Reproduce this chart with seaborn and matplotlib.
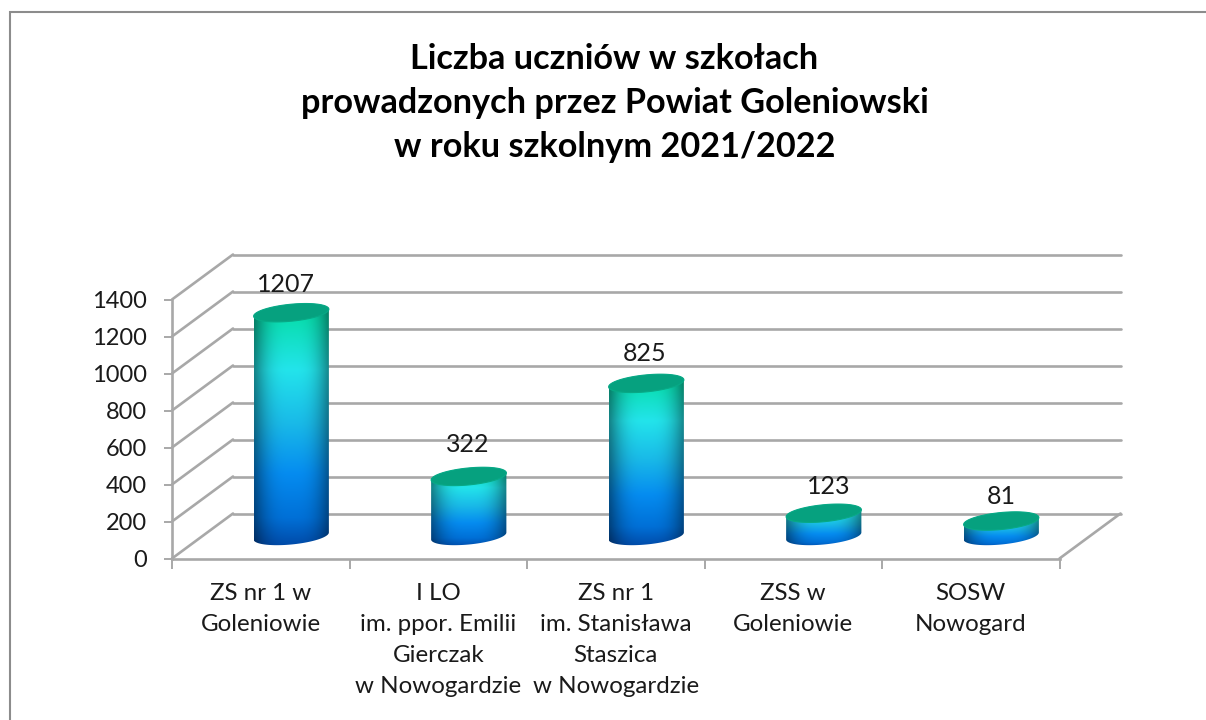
import matplotlib
matplotlib.use("Agg")
import matplotlib.pyplot as plt
import numpy as np
import seaborn as sns
from matplotlib.patches import Polygon, Rectangle
from matplotlib.path import Path
from matplotlib.transforms import IdentityTransform

title = "Liczba uczniów w szkołach\nprowadzonych przez Powiat Goleniowski\nw roku szkolnym 2021/2022"
schools = [
    "ZS nr 1 w\nGoleniowie",
    "I LO\nim. ppor. Emilii\nGierczak\nw Nowogardzie",
    "ZS nr 1\nim. Stanisława\nStaszica\nw Nowogardzie",
    "ZSS w\nGoleniowie",
    "SOSW\nNowogard",
]
students = [1207, 322, 825, 123, 81]
y_ticks = [0, 200, 400, 600, 800, 1000, 1200, 1400]

W, H = 1206, 720
DX, DY = 61, 45  # depth of the fake 3d box, in pixels
GREY = "#A8A8A8"
TEXT = "#1a1a1a"

sns.set_theme(style="white")
plt.rcParams["font.family"] = ["Lato", "DejaVu Sans"]

fig = plt.figure(figsize=(W / 100, H / 100), dpi=100)
fig.patch.set_facecolor("white")
ax = fig.add_axes([172 / W, 1 - 558.5 / H, (1059.5 - 172) / W, (558.5 - 299.5) / H])

sns.barplot(x=schools, y=students, width=0.424, color="#0088f0", saturation=1, ax=ax)

ax.set_autoscale_on(False)
ax.set_xlim(-0.5, 4.5)
ax.set_ylim(0, 1400)
ax.patch.set_alpha(0)
ax.set_yticks(y_ticks)
ax.tick_params(axis="y", left=True, length=6, width=1.4, color=GREY, labelsize=17, pad=12, labelcolor=TEXT)
ax.set_xticks(np.arange(-0.5, 5, 1), minor=True)
ax.tick_params(axis="x", which="minor", bottom=True, length=7, width=1.4, color=GREY)
ax.tick_params(axis="x", which="major", bottom=False, labelsize=17.4, pad=12, labelcolor=TEXT)
for lab in ax.get_xticklabels():
    lab.set_linespacing(1.58)
for side in ["top", "right"]:
    ax.spines[side].set_visible(False)
for side in ["left", "bottom"]:
    ax.spines[side].set_color(GREY)
    ax.spines[side].set_linewidth(1.9)

px = IdentityTransform()


def line(xs, ys):
    ax.plot(xs, ys, color=GREY, lw=1.9, transform=px, clip_on=False, zorder=0.5, solid_capstyle="round")


# back wall and left wall grid
for v in y_ticks:
    x0, y0 = ax.transData.transform((-0.5, v))
    x1, _ = ax.transData.transform((4.5, v))
    line([x0, x0 + DX], [y0, y0 + DY])
    line([x0 + DX, x1 + DX], [y0 + DY, y0 + DY])
# floor right edge
x1, y1 = ax.transData.transform((4.5, 0))
line([x1, x1 + DX], [y1, y1 + DY])

# colours of the cylinder from bottom to top
stops = np.array([0, 0.12, 0.3, 0.5, 0.72, 0.92, 1.0])
cols = np.array(
    [
        [0, 72, 165],
        [0, 112, 215],
        [5, 140, 240],
        [25, 185, 232],
        [35, 228, 235],
        [10, 222, 178],
        [8, 205, 160],
    ],
    dtype=float,
)
B, K = 8.5, 3.5

# label shift from the cylinder top, pixels
label_dx = [-5, -1, -2, 5, 0]
label_dy = [28, 32, 30, 27, 25]


def ellipse(cx, cy, a, t):
    return np.column_stack([cx + a * np.cos(t), cy + B * np.sin(t) + K * np.cos(t)])


for i, (bar, value) in enumerate(zip(ax.patches, students)):
    bar.set_visible(False)
    left, width = bar.get_x(), bar.get_width()
    xl, y_base = ax.transData.transform((left, 0))
    xr, y_top = ax.transData.transform((left + width, bar.get_height()))
    cx = (xl + xr) / 2 + DX / 2
    a = (xr - xl) / 2
    y_base += DY / 2
    y_top += DY / 2

    # body outline: lower half of base ellipse + upper half of top ellipse
    body = np.vstack(
        [
            ellipse(cx, y_base, a, np.linspace(np.pi, 2 * np.pi, 60)),
            ellipse(cx, y_top, a, np.linspace(0, np.pi, 60)),
        ]
    )
    ys = np.linspace(0, 1, 200)
    xs = np.linspace(-1, 1, 80)
    rgb = np.stack([np.interp(ys, stops, cols[:, c]) for c in range(3)], axis=1) / 255
    shade = 0.58 + 0.42 * np.clip(1 - np.abs(xs) ** 3, 0, 1) ** 1.2
    img = rgb[:, None, :] * shade[None, :, None]
    im = ax.imshow(
        img,
        origin="lower",
        aspect="auto",
        interpolation="bilinear",
        extent=(cx - a, cx + a, y_base - B - K, y_top + B + K),
        transform=px,
        zorder=2,
    )
    im.set_clip_box(fig.bbox)
    im.set_clip_path(Path(np.vstack([body, body[:1]]), closed=True), px)

    # top cap
    cap = Polygon(
        ellipse(cx, y_top, a, np.linspace(0, 2 * np.pi, 120)),
        closed=True,
        facecolor="#06A17F",
        edgecolor="#08A986",
        lw=0.8,
        transform=px,
        zorder=3,
        clip_on=False,
    )
    ax.add_patch(cap)

    ax.text(
        cx + label_dx[i],
        y_top + label_dy[i],
        str(value),
        ha="center",
        va="center",
        fontsize=18,
        color=TEXT,
        transform=px,
        zorder=4,
    )

ax.set_xlim(-0.5, 4.5)
ax.set_ylim(0, 1400)

fig.text(
    614.5 / W,
    1 - 103 / H,
    title,
    ha="center",
    va="center",
    fontsize=24.7,
    fontweight="bold",
    color="black",
    linespacing=1.46,
)

# chart area border, only top and left fall inside the picture
fig.add_artist(
    Rectangle((10 / W, -0.05), 1.05, 1.05 - 12 / H, fill=False, edgecolor="#8C8C8C", lw=1.5, transform=fig.transFigure)
)

fig.savefig("out.png", dpi=100)
